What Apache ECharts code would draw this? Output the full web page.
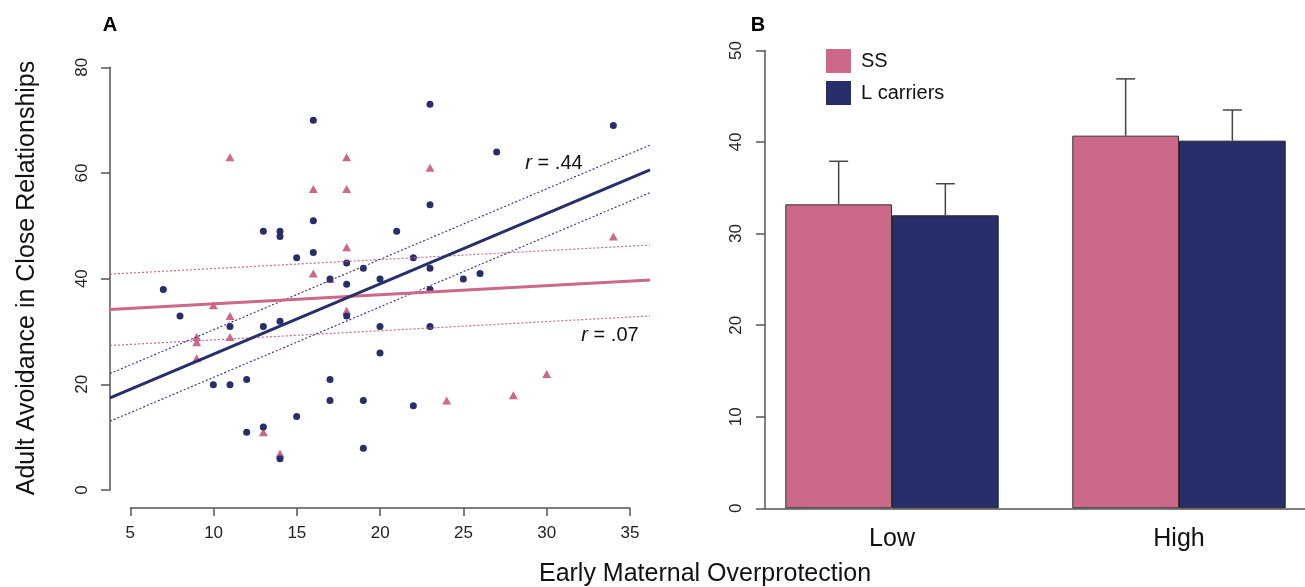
<!DOCTYPE html>
<html>
<head>
<meta charset="utf-8">
<script src="https://cdn.jsdelivr.net/npm/echarts@6/dist/echarts.min.js"></script>
<style>
html,body{margin:0;padding:0;background:#fff;}
#chart{width:1305px;height:587px;}
</style>
</head>
<body>
<div id="chart"></div>
<script>
// ---------- Panel A data ----------
const ssPoints = [
  [11,63],[18,63],[16,57],[18,57],[18,46],[16,41],[17,40],[10,35],[11,33],[9,29],
  [9,28],[11,29],[9,25],[18,34],[13,11],[14,7],[23,61],[34,48],[24,17],[28,18],[30,22]
];
const lPoints = [
  [16,70],[16,51],[13,49],[14,49],[14,48],[16,45],[15,44],[18,43],[19,42],[17,40],
  [20,40],[18,39],[7,38],[8,33],[11,31],[13,31],[14,32],[18,33],[20,31],[20,26],
  [10,20],[11,20],[12,21],[17,21],[17,17],[19,17],[15,14],[13,12],[12,11],[14,6],
  [19,8],[23,73],[34,69],[27,64],[23,54],[21,49],[22,44],[23,42],[25,40],[26,41],
  [23,38],[23,31],[22,16]
];
const lFit   = [[3.8,17.5],[36.2,60.6]];
const lUpper = [[3.8,22.1],[36.2,65.3]];
const lLower = [[3.8,13.1],[36.2,56.3]];
const ssFit   = [[3.8,34.2],[36.2,39.8]];
const ssUpper = [[3.8,40.9],[36.2,46.4]];
const ssLower = [[3.8,27.4],[36.2,33.0]];
const xTicksA = [5,35,5];   // min, max, step
const yTicksA = [0,80,20];

// ---------- Panel B data ----------
const categories = ['Low','High'];
const ssMeans = [33.2, 40.7];
const ssUpperErr = [37.9, 46.9];
const lMeans = [32.0, 40.15];
const lUpperErr = [35.45, 43.5];
const yTicksB = [0,50,10];

const PINK = '#CC6889';
const BLUE = '#282E6A';
const FONT = 'Liberation Sans, Arial, Helvetica, sans-serif';
const AXC = '#555';
const BARW = 106.7;

const chart = echarts.init(document.getElementById('chart'), null, {renderer:'canvas'});

function errSeries(name, means, ups, sign){
  return {
    type:'custom', name: name + '_err', xAxisIndex:3, yAxisIndex:3, z:5, clip:false,
    data: means.map((m,i)=>[i, m, ups[i]]),
    renderItem: function(params, api){
      const c0 = api.coord([api.value(0), api.value(1)]);
      const c1 = api.coord([api.value(0), api.value(2)]);
      const x = c0[0] + sign * BARW/2;
      return {
        type:'group',
        children:[
          {type:'line', shape:{x1:x, y1:c0[1], x2:x, y2:c1[1]}, style:{stroke:'#444', lineWidth:1.5}},
          {type:'line', shape:{x1:x-9.5, y1:c1[1], x2:x+9.5, y2:c1[1]}, style:{stroke:'#444', lineWidth:1.5}}
        ]
      };
    }
  };
}

function fitLine(data, color, width, dotted){
  return {
    type:'line', xAxisIndex:0, yAxisIndex:0, data:data, symbol:'none', silent:true, z:3,
    lineStyle:{color:color, width:width, type: dotted ? [2,2] : 'solid'}
  };
}

const option = {
  animation:false,
  backgroundColor:'#fff',
  textStyle:{fontFamily:FONT},
  grid:[
    {left:110, top:50.4, width:540, height:457},         // 0 panel A data
    {left:110, top:67.3, width:10, height:422.7},        // 1 panel A y-axis
    {left:130.3, top:400, width:499.7, height:108},      // 2 panel A x-axis
    {left:892, top:50.5, width:287, height:457.8},       // 3 panel B bars (category ticks at edges)
    {left:765, top:50.5, width:540, height:457.8}        // 4 panel B axes
  ],
  xAxis:[
    {gridIndex:0, type:'value', min:3.8, max:36.2, show:false},
    {gridIndex:1, type:'value', min:0, max:1, show:false},
    {gridIndex:2, type:'value', min:xTicksA[0], max:xTicksA[1], interval:xTicksA[2],
      axisLine:{show:true, lineStyle:{color:AXC, width:1.5}},
      axisTick:{show:true, length:8, lineStyle:{color:AXC, width:1.5}},
      axisLabel:{show:true, margin:17, fontSize:17, color:'#222', fontFamily:FONT},
      splitLine:{show:false}},
    {gridIndex:3, type:'category', data:categories, boundaryGap:false,
      axisLine:{show:false}, axisTick:{show:false},
      axisLabel:{show:true, margin:18, fontSize:25, color:'#111', fontFamily:FONT},
      splitLine:{show:false}},
    {gridIndex:4, type:'value', min:0, max:1,
      axisLine:{show:true, lineStyle:{color:AXC, width:1.5}},
      axisTick:{show:false}, axisLabel:{show:false}, splitLine:{show:false}}
  ],
  yAxis:[
    {gridIndex:0, type:'value', min:-3.2, max:83.2, show:false},
    {gridIndex:1, type:'value', min:yTicksA[0], max:yTicksA[1], interval:yTicksA[2],
      axisLine:{show:true, lineStyle:{color:AXC, width:1.5}},
      axisTick:{show:true, length:9, lineStyle:{color:AXC, width:1.5}},
      axisLabel:{show:true, rotate:90, margin:19, fontSize:17, color:'#222', fontFamily:FONT},
      splitLine:{show:false}},
    {gridIndex:2, type:'value', min:0, max:1, show:false},
    {gridIndex:3, type:'value', min:0, max:50, show:false},
    {gridIndex:4, type:'value', min:yTicksB[0], max:yTicksB[1], interval:yTicksB[2],
      axisLine:{show:true, lineStyle:{color:AXC, width:1.5}},
      axisTick:{show:true, length:9, lineStyle:{color:AXC, width:1.5}},
      axisLabel:{show:true, rotate:90, margin:20, fontSize:17, color:'#222', fontFamily:FONT},
      splitLine:{show:false}}
  ],
  legend:{
    show:true, orient:'vertical', left:826, top:49, padding:0,
    itemWidth:25, itemHeight:24, itemGap:8,
    data:['SS','L carriers'],
    itemStyle:{borderWidth:0},
    textStyle:{fontSize:20, color:'#111', fontFamily:FONT, padding:[0,0,0,5]},
    icon:'rect'
  },
  series:[
    {type:'scatter', name:'SS pts', xAxisIndex:0, yAxisIndex:0, data:ssPoints,
      symbol:'triangle', symbolSize:[9,8], itemStyle:{color:PINK, opacity:1}, z:2},
    {type:'scatter', name:'L pts', xAxisIndex:0, yAxisIndex:0, data:lPoints,
      symbol:'circle', symbolSize:7, itemStyle:{color:BLUE, opacity:1}, z:2},
    fitLine(ssUpper, PINK, 1.2, true),
    fitLine(ssLower, PINK, 1.2, true),
    fitLine(lUpper, '#3B3F8C', 1.2, true),
    fitLine(lLower, '#3B3F8C', 1.2, true),
    fitLine(ssFit, PINK, 3, false),
    fitLine(lFit, BLUE, 3, false),
    {type:'bar', name:'SS', xAxisIndex:3, yAxisIndex:3, data:ssMeans, clip:false,
      barWidth:BARW, barGap:'0%', itemStyle:{color:PINK, borderColor:'#333', borderWidth:1}},
    {type:'bar', name:'L carriers', xAxisIndex:3, yAxisIndex:3, data:lMeans, clip:false,
      barWidth:BARW, barGap:'0%', itemStyle:{color:BLUE, borderColor:'#222', borderWidth:1}},
    errSeries('SS', ssMeans, ssUpperErr, -1),
    errSeries('L', lMeans, lUpperErr, 1)
  ],
  graphic:[
    {type:'text', x:110, y:25, style:{text:'A', font:'bold 20px '+FONT, fill:'#000', align:'center', verticalAlign:'middle'}},
    {type:'text', x:758, y:25, style:{text:'B', font:'bold 20px '+FONT, fill:'#000', align:'center', verticalAlign:'middle'}},
    {type:'text', x:27, y:278, rotation:Math.PI/2,
      style:{text:'Adult Avoidance in Close Relationships', font:'25px '+FONT, fill:'#111', align:'center', verticalAlign:'middle'}},
    {type:'text', x:705, y:574,
      style:{text:'Early Maternal Overprotection', font:'25px '+FONT, fill:'#111', align:'center', verticalAlign:'middle'}},
    {type:'text', x:554, y:163,
      style:{text:'{i|r} = .44', align:'center', verticalAlign:'middle',
        rich:{i:{fontStyle:'italic', fontSize:20, fontFamily:FONT, fill:'#111'}},
        font:'20px '+FONT, fill:'#111'}},
    {type:'text', x:610, y:335,
      style:{text:'{i|r} = .07', align:'center', verticalAlign:'middle',
        rich:{i:{fontStyle:'italic', fontSize:20, fontFamily:FONT, fill:'#111'}},
        font:'20px '+FONT, fill:'#111'}}
  ]
};
chart.setOption(option);
</script>
</body>
</html>
